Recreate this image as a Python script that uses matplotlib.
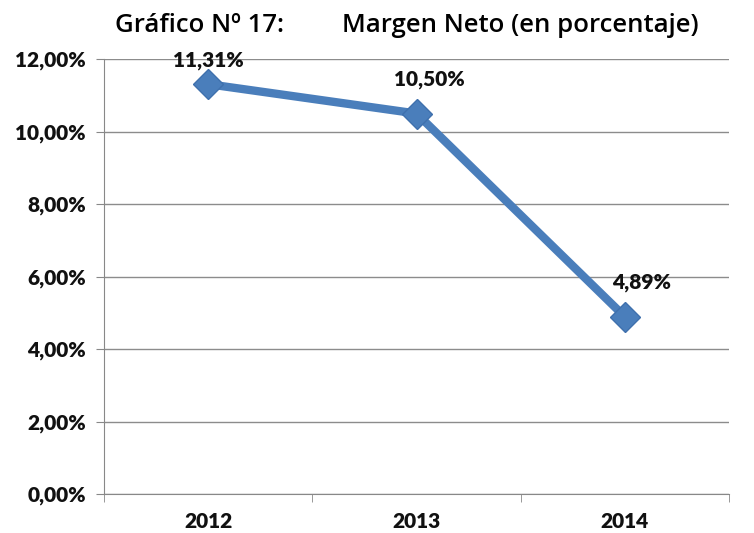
import matplotlib.pyplot as plt
from matplotlib.ticker import FuncFormatter

years = ["2012", "2013", "2014"]
margen = [11.31, 10.50, 4.89]
labels = ["11,31%", "10,50%", "4,89%"]
yticks = [0, 2, 4, 6, 8, 10, 12]

fig = plt.figure(figsize=(7.54, 5.33), dpi=100)
ax = fig.add_axes([0.138, 0.073, 0.829, 0.816])

x = range(len(years))
ax.plot(x, margen, color="#4a7ebb", lw=6, marker="D", markersize=15,
        markeredgecolor="#3f70ad", solid_joinstyle="round", zorder=3)

offsets = [(0.0, 0.65), (0.06, 0.95), (0.08, 0.95)]
for i, (v, s) in enumerate(zip(margen, labels)):
    ax.text(i + offsets[i][0], v + offsets[i][1], s, ha="center", va="center",
            fontsize=15, fontweight="heavy", family="Lato", color="#111111")

ax.set_xlim(-0.5, 2.5)
ax.set_ylim(0, 12)
ax.set_yticks(yticks)
ax.yaxis.set_major_formatter(FuncFormatter(lambda v, p: f"{v:.2f}%".replace(".", ",")))
ax.set_xticks(list(x))
ax.set_xticklabels(years)
ax.set_xticks([-0.5, 0.5, 1.5, 2.5], minor=True)
ax.tick_params(axis="x", which="major", length=0, pad=13)
ax.tick_params(axis="x", which="minor", length=6, color="#888888")
ax.tick_params(axis="y", length=6, color="#888888", pad=7)
for t in ax.get_xticklabels() + ax.get_yticklabels():
    t.set_fontsize(15)
    t.set_fontweight("heavy")
    t.set_family("Lato")
    t.set_color("#111111")

ax.grid(axis="y", color="#8c8c8c", lw=1)
ax.set_axisbelow(True)
for sp in ["top", "right"]:
    ax.spines[sp].set_visible(False)
ax.spines["left"].set_color("#888888")
ax.spines["bottom"].set_color("#888888")

fig.text(0.153, 0.953, "Gráfico Nº 17:", fontsize=18.5, family="Open Sans",
         fontweight="semibold", va="center")
fig.text(0.453, 0.953, "Margen Neto (en porcentaje)", fontsize=18.5, family="Open Sans",
         fontweight="semibold", va="center")

fig.savefig("out.png", dpi=100)
